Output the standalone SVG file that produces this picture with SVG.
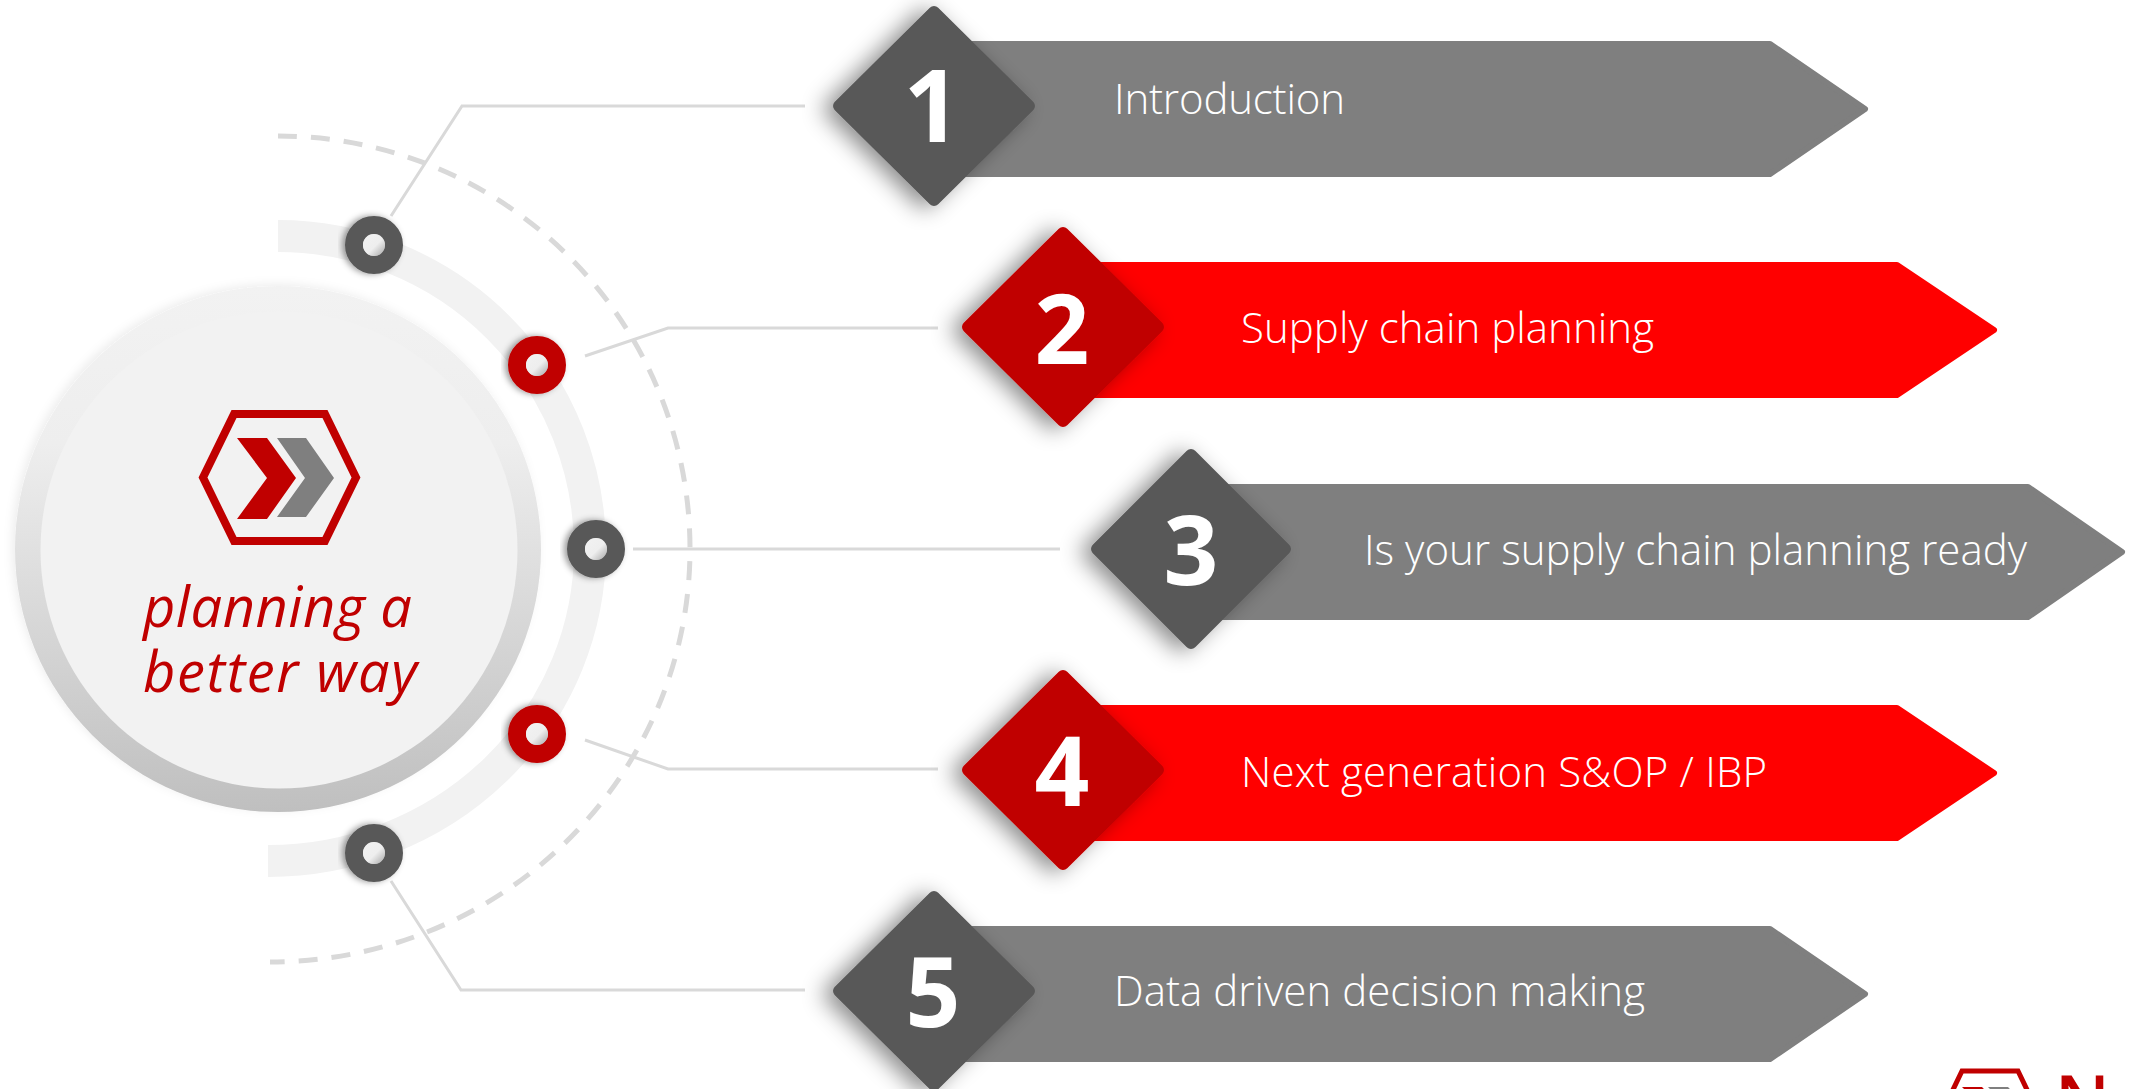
<svg xmlns="http://www.w3.org/2000/svg" width="2131" height="1089" viewBox="0 0 2131 1089">
<style>
.bar{stroke-linejoin:round;stroke-width:6}
.g{fill:#7f7f7f;stroke:#7f7f7f}
.r{fill:#ff0000;stroke:#ff0000}
.dg{fill:#595959;stroke:#595959}
.dr{fill:#c00000;stroke:#c00000}
.dia{stroke-width:12;stroke-linejoin:round;filter:url(#ds)}
.lbl{font-family:"Open Sans","Noto Sans",sans-serif;font-weight:300;font-size:42px;fill:#fff}
.num{font-family:"Open Sans","Noto Sans",sans-serif;font-weight:700;font-size:96px;fill:#fff;text-anchor:middle}
.con{fill:none;stroke:#d9d9d9;stroke-width:3}
.ring{fill:none;stroke-width:18;filter:url(#rs)}
.hole{fill:url(#hg)}
.tag{font-family:"Open Sans","Noto Sans",sans-serif;font-style:italic;font-size:56px;fill:#c00000}
</style>
<defs>
<filter id="ds" x="-30%" y="-30%" width="160%" height="160%"><feDropShadow dx="-10" dy="3" stdDeviation="11" flood-color="#000" flood-opacity=".45"/></filter>
<filter id="rs" x="-40%" y="-40%" width="180%" height="180%"><feDropShadow dx="-3" dy="0" stdDeviation="3" flood-color="#000" flood-opacity=".4"/></filter>
<filter id="cs" x="-10%" y="-10%" width="120%" height="120%"><feDropShadow dx="-3" dy="-2" stdDeviation="5" flood-color="#000" flood-opacity=".07"/></filter>
<linearGradient id="cg" x1="0" y1="0" x2="0" y2="1"><stop offset="0" stop-color="#f2f2f2"/><stop offset=".3" stop-color="#eeeeee"/><stop offset="1" stop-color="#bfbfbf"/></linearGradient>
<linearGradient id="hg" x1="0" y1="0" x2="1" y2="1"><stop offset="0" stop-color="#f2f2f2"/><stop offset=".55" stop-color="#eeeeee"/><stop offset="1" stop-color="#a6a6a6"/></linearGradient>
</defs>
<rect width="2131" height="1089" fill="#fff"/>
<g id="connectors">
<path class="con" d="M391 216L462 106H805"/>
<path class="con" d="M585 356L668 328H938"/>
<path class="con" d="M633 549H1060"/>
<path class="con" d="M585 740L668 769H938"/>
<path class="con" d="M391 881L461 990H805"/>
</g>
<g id="arcs">
<path d="M278 136A412 413 0 0 1 690 549A420 413 0 0 1 270 962" fill="none" stroke="#d9d9d9" stroke-width="5" stroke-dasharray="19 14"/>
<path d="M278 236A312 313 0 0 1 590 549A322 312 0 0 1 268 861" fill="none" stroke="#f2f2f2" stroke-width="32"/>
</g>
<g id="center">
<circle cx="278" cy="549" r="263" fill="url(#cg)" filter="url(#cs)"/>
<circle cx="279" cy="550" r="238.500" fill="#f2f2f2"/>
<polygon points="234,414 325,414 356,477.500 325,541 234,541 203,477.500" fill="none" stroke="#c00000" stroke-width="8"/>
<polygon points="237,438 267,438 296,478 267,519 237,519 267,478" fill="#c00000"/>
<polygon points="277,438 306,438 334,478 306,517 277,517 305,478" fill="#7f7f7f"/>
<text class="tag" x="143" y="627" textLength="269">planning a</text>
<text class="tag" x="143" y="692" textLength="274">better way</text>
</g>
<g id="ring1"><circle class="ring" cx="374" cy="245" r="20" stroke="#595959"/><circle class="hole" cx="374" cy="245" r="11"/></g>
<g id="ring2"><circle class="ring" cx="537" cy="365" r="20" stroke="#c00000"/><circle class="hole" cx="537" cy="365" r="11"/></g>
<g id="ring3"><circle class="ring" cx="596" cy="549" r="20" stroke="#595959"/><circle class="hole" cx="596" cy="549" r="11"/></g>
<g id="ring4"><circle class="ring" cx="537" cy="734" r="20" stroke="#c00000"/><circle class="hole" cx="537" cy="734" r="11"/></g>
<g id="ring5"><circle class="ring" cx="374" cy="853" r="20" stroke="#595959"/><circle class="hole" cx="374" cy="853" r="11"/></g>
<g id="item1">
<polygon class="bar g" points="940,44 1770,44 1865,109 1770,174 940,174"/>
<polygon class="dia dg" points="934,12 1029,106 934,200 839,106"/>
<text class="num" x="932" y="142" style="font-size:100px">1</text>
<text class="lbl" x="1114" y="114" textLength="231">Introduction</text>
</g>
<g id="item2">
<polygon class="bar r" points="1070,265 1897,265 1994,330 1897,395 1070,395"/>
<polygon class="dia dr" points="1063,233 1158,327 1063,421 968,327"/>
<text class="num" x="1062" y="364">2</text>
<text class="lbl" x="1241" y="343" textLength="413">Supply chain planning</text>
</g>
<g id="item3">
<polygon class="bar g" points="1195,487 2028,487 2122,552 2028,617 1195,617"/>
<polygon class="dia dg" points="1191,455 1285,549 1191,643 1097,549"/>
<text class="num" x="1191" y="585">3</text>
<text class="lbl" x="1364" y="565" textLength="663">Is your supply chain planning ready</text>
</g>
<g id="item4">
<polygon class="bar r" points="1070,708 1897,708 1994,773 1897,838 1070,838"/>
<polygon class="dia dr" points="1063,676 1158,770 1063,864 968,770"/>
<text class="num" x="1062" y="806">4</text>
<text class="lbl" x="1241" y="787" textLength="526">Next generation S&amp;OP / IBP</text>
</g>
<g id="item5">
<polygon class="bar g" points="940,929 1770,929 1865,994 1770,1059 940,1059"/>
<polygon class="dia dg" points="934,897 1029,991 934,1085 839,991"/>
<text class="num" x="933" y="1027">5</text>
<text class="lbl" x="1114" y="1006" textLength="531">Data driven decision making</text>
</g>
<g id="logo">
<polygon points="1962,1071 2018,1071 2044,1125 1936,1125" fill="none" stroke="#c00000" stroke-width="5"/>
<polygon points="1962,1087 1982,1087 1994,1100 1975,1100" fill="#c00000"/>
<polygon points="1988,1087 2008,1087 2020,1100 2000,1100" fill="#7f7f7f"/>
<text x="2055" y="1126" font-family="Open Sans, sans-serif" font-weight="600" font-size="70" fill="#c00000">N</text>
</g>
</svg>
